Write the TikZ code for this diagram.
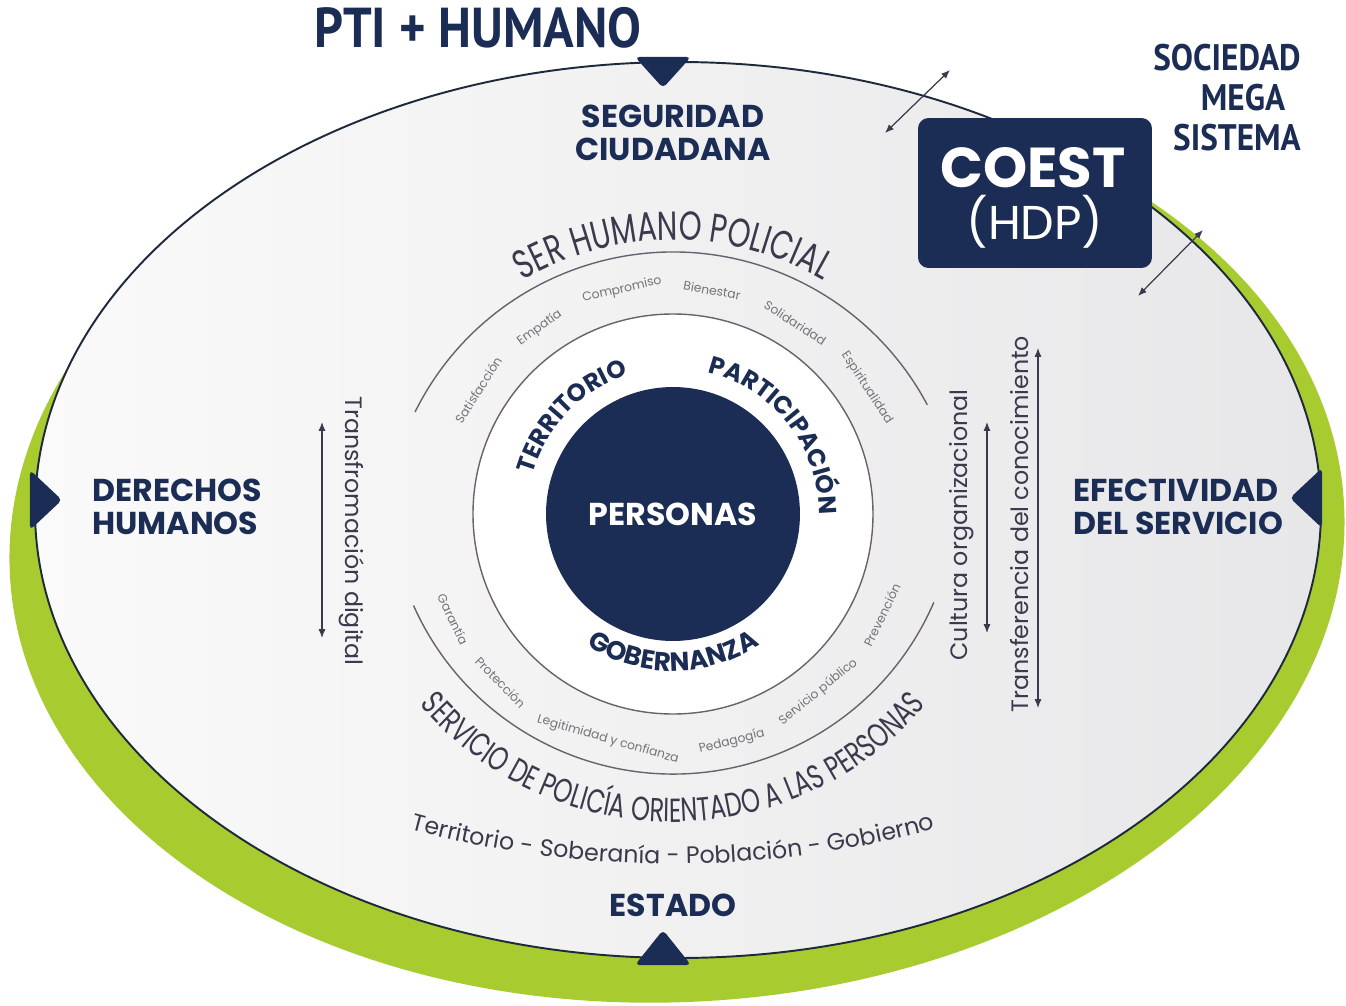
\documentclass[tikz,border=0pt]{standalone}
\usepackage{fontspec}
\setmainfont{Poppins}
\newfontfamily\ptfont{PT Sans}[FakeStretch=0.9]
\newfontfamily\condfont{Poppins}[FakeStretch=0.72]
\usepackage{tikz}
\usetikzlibrary{arrows.meta,positioning,decorations.text}
\definecolor{navy}{RGB}{27,45,84}
\definecolor{lime}{RGB}{168,204,48}
\definecolor{inkgray}{RGB}{58,58,76}
\definecolor{wordgray}{RGB}{115,115,120}
\definecolor{ringgray}{RGB}{105,98,108}
\definecolor{bgleft}{RGB}{250,250,250}
\definecolor{bgright}{RGB}{231,231,233}
\definecolor{rimline}{RGB}{30,42,60}

\begin{document}
\begin{tikzpicture}[x=0.02cm, y=0.02cm,
  bighead/.style={font=\bfseries\fontsize{18}{18.7}\selectfont, text=navy, inner sep=0pt, align=center},
  sidehead/.style={bighead, align=left, anchor=west},
  cornerlab/.style={font=\ptfont\bfseries\fontsize{21}{21}\selectfont, text=navy, inner sep=0pt},
  word/.style={font=\fontsize{7}{8}\selectfont, text=wordgray, inner sep=0pt},
  vlab/.style={font=\fontsize{13.5}{14}\selectfont, text=inkgray, inner sep=0pt},
  navytri/.style={fill=navy, rounded corners=2.5pt},
  ring/.style={draw=ringgray, line width=0.8pt},
  twoway/.style={{Latex[length=5pt,width=4pt]}-{Latex[length=5pt,width=4pt]}, draw=inkgray, line width=0.7pt}
]
  \useasboundingbox[fill=white] (-673,-491) rectangle (673,514);

  \fill[lime, rotate around={3:(4,-26)}] (4,-26) ellipse [x radius=668, y radius=462];
  \shadedraw[left color=bgleft, right color=bgright, draw=rimline, line width=1.1pt]
    (5,4) ellipse [x radius=643, y radius=448];

  \fill[navytri] (-38,457) -- (18,457) -- (-10,426) -- cycle;
  \fill[navytri] (-38,-451) -- (18,-451) -- (-10,-416) -- cycle;
  \fill[navytri] (-643,44) -- (-643,-16) -- (-611,14) -- cycle;
  \fill[navytri] (649,46) -- (649,-14) -- (617,16) -- cycle;

  \node[font=\ptfont\bfseries\fontsize{32}{32}\selectfont, text=navy, inner sep=0pt] (title) at (-195,486) {PTI + HUMANO};
  \node[cornerlab] (soc) at (554,456) {SOCIEDAD};
  \node[cornerlab] (mega) at (570,416) {MEGA};
  \node[cornerlab] (sist) at (564,376) {SISTEMA};

  \node[bighead] (seg) at (0,381) {SEGURIDAD\\CIUDADANA};
  \node[sidehead] (ddhh) at (-581,7) {DERECHOS\\HUMANOS};
  \node[sidehead] (efec) at (400,7) {EFECTIVIDAD\\DEL SERVICIO};
  \node[bighead] (estado) at (0,-391) {ESTADO};

  \node[fill=navy, rounded corners=6pt, minimum width=4.68cm, minimum height=3cm] (coest) at (362,321) {};
  \node[font=\bfseries\fontsize{32}{32}\selectfont, text=white, inner sep=0pt] (coestname) at (360,346) {COEST};
  \node[font=\fontsize{27}{27}\selectfont, text=white, inner sep=0pt] (hdp) at (362,292) {(HDP)};
  \coordinate (a1s) at (212,381);
  \coordinate (a1e) at (277,444);
  \coordinate (a2s) at (465,218);
  \coordinate (a2e) at (530,284);
  \draw[twoway] (a1s) -- (a1e);
  \draw[twoway] (a2s) -- (a2e);

  \draw[ring] ([shift={(0,-26)}]153.6:288) arc[start angle=153.6, end angle=28, radius=288];
  \draw[ring] ([shift={(0,24)}]204:284) arc[start angle=204, end angle=336.7, radius=284];
  \filldraw[ring, fill=white] (0,0) circle[radius=200];
  \node[circle, fill=navy, minimum size=5.08cm, text=white, font=\bfseries\fontsize{18}{18}\selectfont] (personas) at (0,0) {PERSONAS};

  \path[decorate, decoration={text along path, text align=center,
    text={|\bfseries\fontsize{14}{14}\selectfont\color{navy}|TERRITORIO}}]
    (178:146) arc[start angle=178, end angle=94, radius=146];
  \path[decorate, decoration={text along path, text align=center,
    text={|\bfseries\fontsize{14}{14}\selectfont\color{navy}|PARTICIPACIÓN}}]
    (84:146) arc[start angle=84, end angle=-8, radius=146];
  \path[decorate, decoration={text along path, text align=center,
    text={|\bfseries\fontsize{15}{15}\selectfont\color{navy}|GOBERNANZA}}]
    (220:157) arc[start angle=220, end angle=320, radius=157];

  \path[decorate, decoration={text along path, text align=center,
    text={|\condfont\fontsize{23}{23}\selectfont\color{inkgray}|SER HUMANO POLICIAL}}]
    ([shift={(0,-26)}]165:300) arc[start angle=165, end angle=15, radius=300];
  \path[decorate, decoration={text along path, text align=center,
    text={|\condfont\fontsize{19}{19}\selectfont\color{inkgray}|SERVICIO DE POLICÍA ORIENTADO A LAS PERSONAS}}]
    ([shift={(0,24)}]185:332) arc[start angle=185, end angle=355, radius=332];
  \path[decorate, decoration={text along path, text align=center,
    text={|\fontsize{13.5}{13.5}\selectfont\color{inkgray}|Territorio - Soberanía - Población - Gobierno}}]
    ([shift={(0,654)}]246:1004) arc[start angle=246, end angle=294, radius=1004];

  \node[word, rotate=57.5] (w1) at (147.5:231) {Satisfacción};
  \node[word, rotate=35.6] (w2) at (125.6:229) {Empatía};
  \node[word, rotate=12.8] (w3) at (102.8:230) {Compromiso};
  \node[word, rotate=-9.9] (w4) at (80.1:227) {Bienestar};
  \node[word, rotate=-32.6] (w5) at (57.4:227) {Solidaridad};
  \node[word, rotate=-57] (w6) at (33:231) {Espiritualidad};
  \node[word, rotate=-64.4] (w7) at (205.6:244) {Garantía};
  \node[word, rotate=-45.7] (w8) at (224.3:241) {Protección};
  \node[word, rotate=-16.1] (w9) at (253.9:235) {Legitimidad y confianza};
  \node[word, rotate=14.5] (w10) at (284.5:235) {Pedagogía};
  \node[word, rotate=39.2] (w11) at (309.2:230) {Servicio público};
  \node[word, rotate=64.2] (w12) at (334.2:232) {Prevención};

  \node[vlab, rotate=-90] (digital) at (-321,-17) {Transfromación digital};
  \node[vlab, rotate=90] (cultura) at (289,-11) {Cultura organizacional};
  \node[vlab, rotate=90] (transf) at (347,-10) {Transferencia del conocimiento};
  \coordinate (d1) at (-351,92);
  \coordinate (d2) at (-351,-124);
  \coordinate (c1) at (314,92);
  \coordinate (c2) at (314,-119);
  \coordinate (t1) at (365,166);
  \coordinate (t2) at (365,-194);
  \draw[twoway] (d1) -- (d2);
  \draw[twoway] (c1) -- (c2);
  \draw[twoway] (t1) -- (t2);
\end{tikzpicture}
\end{document}
